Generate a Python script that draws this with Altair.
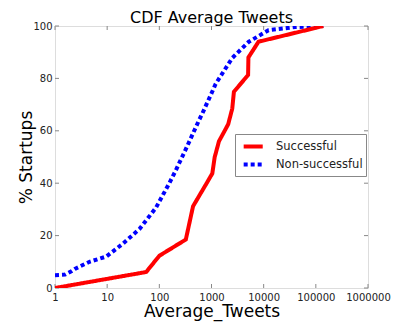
import altair as alt
import pandas as pd

# Successful startups CDF (Average tweets vs % startups)
succ_x = [1, 56, 100, 322, 443, 770, 1036, 1150, 1390, 2090, 2500, 2690, 5030, 5100, 7970, 139000]
succ_y = [0, 6.1, 12.3, 18.5, 31.2, 39.3, 43.7, 49.9, 56, 62.5, 68.5, 74.9, 81.3, 88.0, 94, 100]

# Non-successful startups CDF
non_x = [1, 1.55, 2.1, 2.4, 4.6, 9.6, 20, 41.5, 86, 155, 208, 322, 575, 670, 1036, 1200, 2500, 5200, 12400, 40000, 139000]
non_y = [4.9, 5.1, 6.5, 7.3, 10, 12, 16.9, 22.5, 30.6, 40, 45, 53, 64, 66.7, 75, 77.9, 87.8, 94, 98.4, 99.6, 100]

series_names = ["Successful", "Non-successful"]
x_ticks = [1, 10, 100, 1000, 10000, 100000, 1000000]
y_ticks = [0, 20, 40, 60, 80, 100]

rows = []
for i, (xv, yv) in enumerate(zip(non_x, non_y)):
    rows.append({"x": xv, "y": yv, "series": series_names[1], "o": i})
for i, (xv, yv) in enumerate(zip(succ_x, succ_y)):
    rows.append({"x": xv, "y": yv, "series": series_names[0], "o": i})
df = pd.DataFrame(rows)

W, H = 313, 262
FONT = "DejaVu Sans"

xscale = alt.Scale(type="log", domain=[1, 1000000])
yscale = alt.Scale(domain=[0, 100])

legend_kw = dict(title=None, orient="none", legendX=180, legendY=108,
                 symbolType="M-0.51,0H2.03", symbolStrokeWidth=4, symbolSize=225,
                 labelFontSize=11.5, labelFont=FONT, labelColor="#222",
                 strokeColor="#888", fillColor="#ffffff", padding=3,
                 rowPadding=0, labelOffset=19, cornerRadius=0)

lines = alt.Chart(df).mark_line(strokeWidth=4, strokeCap="butt", clip=True).encode(
    x=alt.X("x:Q", scale=xscale,
            axis=alt.Axis(values=x_ticks, format="d", title="Average_Tweets",
                          grid=False, tickSize=0, domain=False, labelPadding=4,
                          labelFontSize=10, labelColor="#222", labelFont=FONT,
                          titleFontSize=17, titleFontWeight="normal", titleFont=FONT,
                          titleColor="#000", titlePadding=1, labelFlush=False)),
    y=alt.Y("y:Q", scale=yscale,
            axis=alt.Axis(values=y_ticks, title="% Startups", grid=False, tickSize=0,
                          domain=False, labelPadding=3, labelFontSize=10,
                          labelColor="#222", labelFont=FONT, titleFontSize=17,
                          titleFontWeight="normal", titleFont=FONT, titleColor="#000",
                          titlePadding=-3, labelFlush=False)),
    color=alt.Color("series:N", sort=series_names,
                    scale=alt.Scale(domain=series_names, range=["#ff0000", "#0000ff"]),
                    legend=alt.Legend(**legend_kw)),
    strokeDash=alt.StrokeDash("series:N", sort=series_names,
                              scale=alt.Scale(domain=series_names, range=[[1, 0], [4, 3]]),
                              legend=alt.Legend(**legend_kw)),
    order="o:Q",
)

xt = pd.DataFrame({"t": x_ticks})
yt = pd.DataFrame({"t": y_ticks})
tick_color = "#888"
bx = alt.Chart(xt).mark_rule(color=tick_color, strokeWidth=1).encode(
    x=alt.X("t:Q", scale=xscale), y=alt.value(H), y2=alt.value(H - 4))
tx = alt.Chart(xt).mark_rule(color=tick_color, strokeWidth=1).encode(
    x=alt.X("t:Q", scale=xscale), y=alt.value(0), y2=alt.value(4))
ly = alt.Chart(yt).mark_rule(color=tick_color, strokeWidth=1).encode(
    y=alt.Y("t:Q", scale=yscale), x=alt.value(0), x2=alt.value(4))
ry = alt.Chart(yt).mark_rule(color=tick_color, strokeWidth=1).encode(
    y=alt.Y("t:Q", scale=yscale), x=alt.value(W), x2=alt.value(W - 4))

chart = alt.layer(bx, tx, ly, ry, lines).properties(
    width=W, height=H,
    title=alt.TitleParams("CDF Average Tweets", fontSize=16, font=FONT,
                          fontWeight="normal", color="#000", offset=0, dy=5),
    padding={"left": 47, "top": 18, "right": 28, "bottom": 34},
    autosize=alt.AutoSizeParams(type="none"),
).configure_view(stroke="#888", strokeWidth=1.2).configure(background="#ffffff")

chart.save("out.html", embed_options={"renderer": "svg", "actions": False})
